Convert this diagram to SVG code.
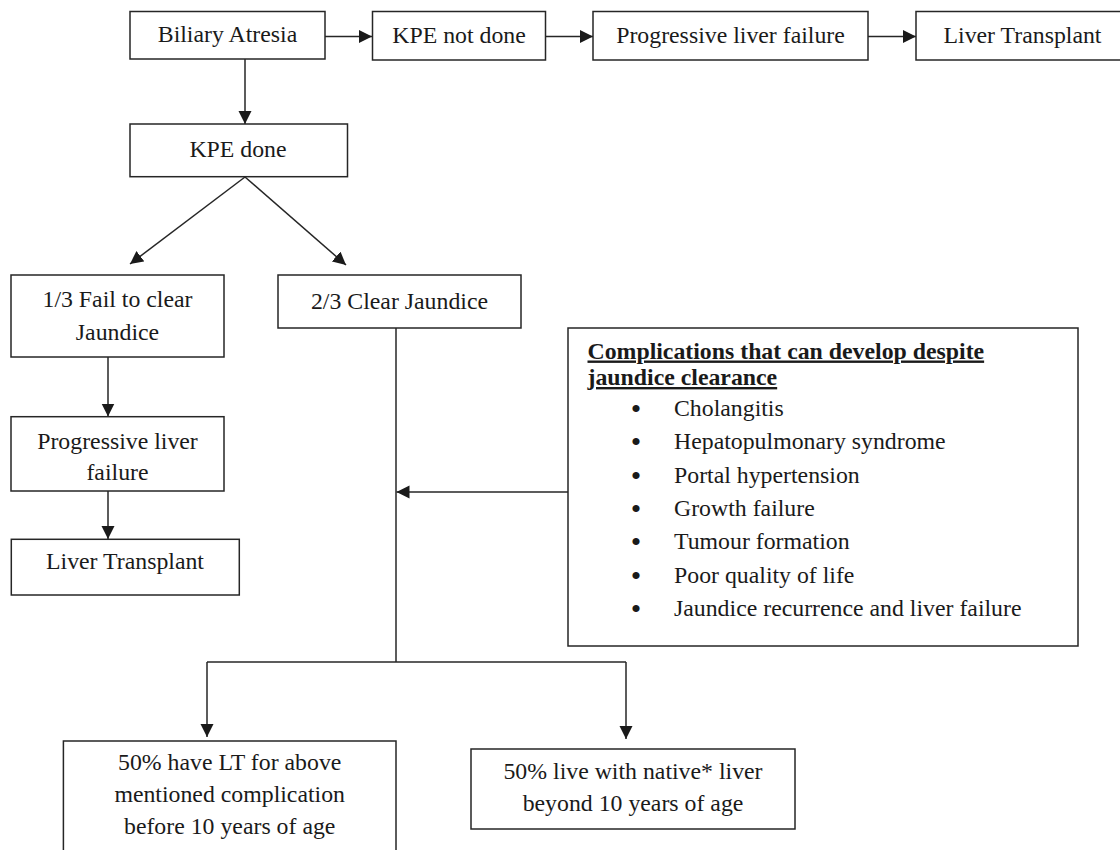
<svg xmlns="http://www.w3.org/2000/svg" width="1120" height="850" viewBox="0 0 1120 850">
<style>
.box{fill:#fff;stroke:#262626;stroke-width:1.5}
.t{font-family:'Liberation Serif',Tinos,'Times New Roman',Times,'DejaVu Serif',serif;font-size:23.8px;fill:#1a1a1a;text-anchor:middle}
.l{font-family:'Liberation Serif',Tinos,'Times New Roman',Times,'DejaVu Serif',serif;font-size:23.8px;fill:#1a1a1a}
.bu{font-family:'Liberation Serif',Tinos,'Times New Roman',Times,'DejaVu Serif',serif;font-size:30px;fill:#1a1a1a;text-anchor:middle}
.b{font-weight:bold;text-decoration:underline}
.c{fill:none;stroke:#262626;stroke-width:1.5}
</style>
<defs>
<marker id="ah" markerUnits="userSpaceOnUse" markerWidth="14" markerHeight="14" refX="13" refY="6.5" orient="auto">
<path d="M0,0 L13,6.5 L0,13 z" fill="#1a1a1a"/>
</marker>
</defs>
<rect width="1120" height="850" fill="#fff"/>
<g id="connectors">
<line class="c" x1="325" y1="36.5" x2="372" y2="36.5" marker-end="url(#ah)"/>
<line class="c" x1="545.5" y1="36.5" x2="593" y2="36.5" marker-end="url(#ah)"/>
<line class="c" x1="868" y1="36.5" x2="916" y2="36.5" marker-end="url(#ah)"/>
<line class="c" x1="245" y1="59" x2="245" y2="124" marker-end="url(#ah)"/>
<line class="c" x1="245" y1="177" x2="130" y2="264" marker-end="url(#ah)"/>
<line class="c" x1="245" y1="177" x2="346" y2="265" marker-end="url(#ah)"/>
<line class="c" x1="108" y1="357" x2="108" y2="416.5" marker-end="url(#ah)"/>
<line class="c" x1="108" y1="491" x2="108" y2="539" marker-end="url(#ah)"/>
<line class="c" x1="396" y1="328" x2="396" y2="662"/>
<line class="c" x1="207" y1="662" x2="626" y2="662"/>
<line class="c" x1="207" y1="662" x2="207" y2="737" marker-end="url(#ah)"/>
<line class="c" x1="626" y1="662" x2="626" y2="739" marker-end="url(#ah)"/>
<line class="c" x1="568" y1="492" x2="396.5" y2="492" marker-end="url(#ah)"/>
</g>
<g id="biliary-atresia"><rect class="box" x="130" y="11.5" width="195" height="47.5"/><text class="t" x="227.5" y="42">Biliary Atresia</text></g>
<g id="kpe-not-done"><rect class="box" x="372.5" y="11.5" width="173" height="48.5"/><text class="t" x="459" y="42.5">KPE not done</text></g>
<g id="plf-top"><rect class="box" x="593" y="11.5" width="275" height="48.5"/><text class="t" x="730.5" y="42.5">Progressive liver failure</text></g>
<g id="lt-top"><rect class="box" x="916" y="11.5" width="220" height="48.5"/><text class="t" x="1022.5" y="42.5">Liver Transplant</text></g>
<g id="kpe-done"><rect class="box" x="130" y="124" width="217.5" height="52.7"/><text class="t" x="238" y="157">KPE done</text></g>
<g id="fail-clear"><rect class="box" x="11" y="275" width="213" height="82"/><text class="t" x="117.5" y="307">1/3 Fail to clear</text><text class="t" x="117.5" y="339.5">Jaundice</text></g>
<g id="clear-jaundice"><rect class="box" x="278" y="275" width="243" height="53"/><text class="t" x="399.5" y="309">2/3 Clear Jaundice</text></g>
<g id="plf-left"><rect class="box" x="11" y="416.7" width="213" height="74.3"/><text class="t" x="117.5" y="448.5">Progressive liver</text><text class="t" x="117.5" y="480">failure</text></g>
<g id="lt-left"><rect class="box" x="11.3" y="539.3" width="228" height="55.7"/><text class="t" x="125" y="568.5">Liver Transplant</text></g>
<g id="complications"><rect class="box" x="568" y="328" width="510" height="318"/>
<text class="l b" x="587.5" y="358.5">Complications that can develop despite</text>
<text class="l b" x="587.5" y="385">jaundice clearance</text>
<text class="bu" x="636" y="419">•</text><text class="l" x="674" y="416">Cholangitis</text>
<text class="bu" x="636" y="452.3">•</text><text class="l" x="674" y="449.3">Hepatopulmonary syndrome</text>
<text class="bu" x="636" y="485.6">•</text><text class="l" x="674" y="482.6">Portal hypertension</text>
<text class="bu" x="636" y="519">•</text><text class="l" x="674" y="516">Growth failure</text>
<text class="bu" x="636" y="552.3">•</text><text class="l" x="674" y="549.3">Tumour formation</text>
<text class="bu" x="636" y="585.6">•</text><text class="l" x="674" y="582.6">Poor quality of life</text>
<text class="bu" x="636" y="619">•</text><text class="l" x="674" y="616">Jaundice recurrence and liver failure</text>
</g>
<g id="lt-before-10"><rect class="box" x="63.4" y="741" width="332.6" height="130"/><text class="t" x="229.7" y="770">50% have LT for above</text><text class="t" x="229.7" y="802">mentioned complication</text><text class="t" x="229.7" y="834">before 10 years of age</text></g>
<g id="native-liver"><rect class="box" x="471" y="749" width="324" height="80"/><text class="t" x="633" y="778.5">50% live with native* liver</text><text class="t" x="633" y="810.5">beyond 10 years of age</text></g>
</svg>
